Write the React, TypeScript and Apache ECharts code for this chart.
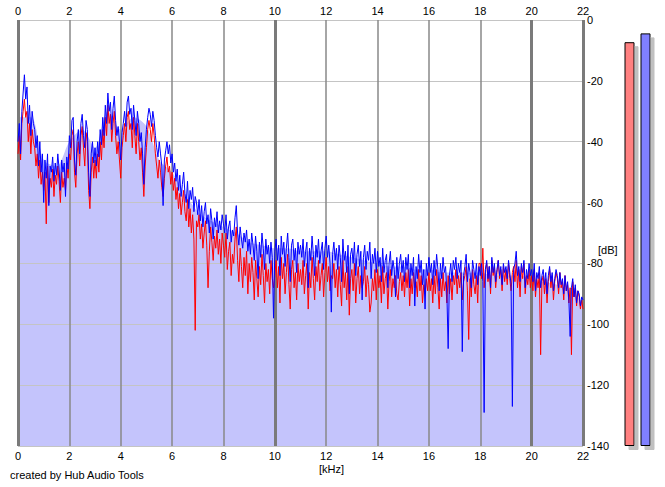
import React, { useEffect, useRef } from "react";
import * as echarts from "echarts";

// Spectrum: values in dB, sampled every FREQ_STEP kHz from 0 to 22 kHz
const FREQ_STEP = 0.05;
const blueDb = [
  -40,-34,-44,-30,-24,-18,-26,-22,-34,-28,-38,-30,-34,-36,-42,-38,-48,-40,-50,-44,
  -60,-46,-52,-44,-61,-48,-50,-45,-53,-47,-51,-44,-49,-56,-46,-50,-47,-58,-45,-49,
  -38,-42,-33,-32,-46,-51,-40,-36,-44,-34,-31,-38,-42,-33,-36,-50,-58,-44,-40,-47,
  -42,-48,-40,-45,-36,-41,-32,-38,-28,-34,-24,-30,-27,-36,-29,-25,-33,-38,-35,-40,
  -46,-37,-34,-30,-35,-27,-25,-31,-29,-36,-28,-33,-38,-30,-34,-40,-37,-44,-54,-42,
  -36,-32,-29,-31,-35,-30,-33,-38,-42,-45,-40,-44,-48,-61,-46,-43,-40,-44,-41,-47,
  -44,-50,-47,-53,-49,-56,-51,-58,-54,-50,-57,-60,-53,-62,-56,-59,-55,-63,-58,-60,
  -64,-59,-66,-61,-68,-63,-60,-67,-64,-70,-62,-66,-72,-65,-68,-63,-70,-66,-69,-64,
  -67,-70,-64,-72,-68,-66,-73,-69,-71,-65,-61,-70,-74,-68,-72,-75,-70,-73,-69,-76,
  -72,-77,-70,-74,-79,-71,-76,-85,-73,-78,-70,-75,-82,-72,-77,-74,-80,-73,-78,-98,
  -76,-72,-79,-74,-84,-71,-77,-73,-81,-75,-70,-78,-86,-74,-72,-79,-75,-83,-73,-77,
  -74,-78,-72,-81,-76,-73,-88,-75,-79,-71,-77,-84,-74,-78,-72,-80,-76,-73,-82,-75,
  -71,-78,-74,-80,-96,-77,-73,-79,-75,-82,-74,-78,-86,-72,-79,-76,-83,-74,-90,-77,
  -75,-80,-73,-84,-77,-74,-81,-76,-92,-78,-74,-82,-76,-79,-73,-85,-77,-80,-75,-83,
  -76,-81,-78,-86,-75,-83,-79,-77,-88,-80,-76,-84,-79,-82,-91,-78,-85,-80,-77,-83,
  -79,-86,-78,-82,-77,-88,-80,-84,-78,-94,-81,-85,-77,-83,-79,-87,-82,-95,-80,-84,
  -78,-83,-80,-87,-79,-84,-77,-82,-89,-80,-85,-78,-83,-81,-90,-108,-84,-80,-86,-79,
  -82,-78,-85,-80,-83,-79,-109,-84,-81,-77,-86,-80,-83,-88,-79,-82,-85,-80,-87,-81,
  -84,-80,-86,-129,-82,-79,-85,-81,-88,-78,-83,-80,-86,-82,-79,-84,-81,-87,-80,-83,
  -81,-85,-79,-83,-87,-127,-82,-80,-76,-84,-81,-86,-80,-83,-79,-88,-82,-85,-80,-84,
  -82,-86,-80,-89,-83,-85,-81,-88,-84,-82,-87,-83,-90,-84,-81,-86,-83,-89,-85,-82,
  -84,-88,-83,-87,-85,-90,-84,-89,-86,-92,-104,-88,-85,-91,-87,-93,-89,-90,-94,-91,
  -92,
];
const redDb = [
  -44,-38,-46,-34,-30,-26,-32,-30,-40,-34,-44,-36,-40,-42,-48,-44,-52,-46,-54,-50,
  -56,-50,-67,-48,-60,-52,-55,-49,-58,-51,-54,-48,-53,-60,-50,-55,-52,-56,-47,-52,
  -44,-46,-38,-36,-50,-55,-44,-40,-48,-38,-35,-42,-48,-37,-40,-56,-62,-50,-45,-52,
  -46,-52,-44,-50,-40,-46,-36,-42,-32,-38,-28,-34,-31,-40,-34,-30,-38,-44,-40,-46,
  -52,-42,-38,-34,-40,-32,-30,-36,-34,-42,-32,-38,-44,-34,-40,-46,-42,-50,-58,-48,
  -42,-36,-33,-36,-40,-34,-38,-44,-48,-52,-46,-50,-55,-58,-52,-48,-45,-50,-48,-54,
  -50,-56,-52,-59,-55,-62,-57,-64,-60,-56,-63,-66,-59,-68,-62,-70,-64,-72,-102,-66,
  -68,-64,-72,-67,-75,-70,-66,-74,-88,-76,-68,-73,-79,-71,-75,-69,-77,-72,-80,-70,
  -74,-78,-70,-82,-76,-73,-84,-77,-80,-72,-68,-79,-86,-75,-81,-88,-78,-84,-76,-90,
  -80,-86,-78,-83,-92,-79,-85,-91,-81,-87,-77,-84,-93,-80,-86,-82,-90,-79,-85,-88,
  -84,-79,-88,-81,-93,-78,-85,-80,-90,-83,-77,-87,-95,-82,-79,-88,-83,-92,-80,-86,
  -82,-87,-79,-90,-84,-80,-95,-83,-88,-78,-85,-92,-81,-86,-79,-89,-84,-80,-91,-83,
  -78,-86,-81,-89,-84,-85,-80,-88,-82,-91,-81,-87,-94,-79,-88,-83,-92,-81,-97,-85,
  -82,-89,-80,-93,-85,-81,-90,-84,-88,-86,-81,-91,-84,-87,-96,-93,-85,-89,-82,-92,
  -82,-88,-84,-93,-81,-90,-85,-83,-95,-86,-82,-91,-85,-88,-84,-90,-92,-86,-83,-89,
  -84,-91,-83,-88,-82,-94,-85,-90,-83,-88,-86,-91,-82,-89,-84,-93,-87,-90,-85,-89,
  -83,-89,-85,-93,-84,-90,-82,-88,-95,-85,-91,-83,-89,-86,-93,-84,-90,-85,-92,-84,
  -87,-82,-90,-84,-88,-83,-92,-86,-84,-81,-89,-105,-85,-91,-82,-87,-90,-84,-93,-80,
  -80,-85,-75,-88,-82,-80,-86,-81,-90,-79,-84,-81,-88,-83,-79,-85,-82,-89,-81,-86,
  -82,-87,-80,-85,-89,-83,-81,-86,-79,-88,-82,-91,-81,-85,-80,-90,-84,-87,-82,-88,
  -84,-89,-82,-91,-85,-88,-83,-110,-86,-84,-90,-85,-93,-86,-82,-88,-84,-92,-86,-83,
  -85,-90,-83,-88,-86,-92,-84,-89,-87,-93,-88,-110,-86,-91,-88,-94,-89,-91,-95,-92,
  -95,
];
// Lavender fill envelope, every FILL_STEP kHz
const FILL_STEP = 0.5;
const fillDb = [
  -32, -32, -46, -48, -40, -36, -42, -30, -36, -32, -35, -46, -50, -57, -63, -66,
  -68, -70, -73, -74, -75, -75, -76, -76, -76, -77, -78, -79, -80, -81, -81, -82,
  -82, -83, -83, -83, -83, -84, -84, -84, -85, -86, -87, -89, -93,
];
// Level meters (dB)
const meterNames = ["L", "R"];
const meterDb = [-7.3, -4.4];
const meterColors = ["#ff8080", "#8080ff"];

const X_MIN = 0;
const X_MAX = 22;
const X_INTERVAL = 2;
const Y_MIN = -140;
const Y_MAX = 0;
const Y_INTERVAL = 20;

const FONT = "'Liberation Sans', Arial, sans-serif";
const FONT_SIZE = 11;

export default function App() {
  const ref = useRef<HTMLDivElement>(null);
  useEffect(() => {
    if (!ref.current) return;
    const chart = echarts.init(ref.current, undefined, { renderer: "svg" });
    const toPairs = (arr: number[], step: number) =>
      arr.map((v, i) => [+(i * step).toFixed(3), v]);
    const labelStyle = { color: "#000", fontSize: FONT_SIZE, fontFamily: FONT };
    chart.setOption({
      animation: false,
      backgroundColor: "#fff",
      grid: [
        { left: 18, right: 82, top: 20, bottom: 41 },
        { left: 621.5, width: 32, top: 20, bottom: 41 },
      ],
      xAxis: [
        {
          type: "value", gridIndex: 0, position: "bottom", min: X_MIN, max: X_MAX, interval: X_INTERVAL,
          z: 1.5,
          axisLine: { show: false }, axisTick: { show: false },
          axisLabel: { ...labelStyle, margin: 4 },
          splitLine: { show: true, lineStyle: { color: "#888888", width: 1.5 } },
        },
        {
          type: "value", gridIndex: 0, position: "top", min: X_MIN, max: X_MAX, interval: X_INTERVAL,
          z: 1.5,
          axisLine: { show: false }, axisTick: { show: false },
          axisLabel: { ...labelStyle, margin: 4 },
          splitLine: { show: false },
        },
        {
          type: "value", gridIndex: 0, position: "bottom", min: X_MIN, max: X_MAX, interval: 10,
          z: 1.6,
          axisLine: { show: false }, axisTick: { show: false }, axisLabel: { show: false },
          splitLine: { show: true, lineStyle: { color: "#7a7a7a", width: 3 } },
        },
        {
          type: "category", gridIndex: 1, data: meterNames, show: false,
        },
      ],
      yAxis: [
        {
          type: "value", gridIndex: 0, position: "right", min: Y_MIN, max: Y_MAX, interval: Y_INTERVAL,
          z: 1.4,
          axisLine: { show: false }, axisTick: { show: false },
          axisLabel: { ...labelStyle, margin: 4 },
          splitLine: { show: true, lineStyle: { color: "#c4c4c4", width: 1 } },
        },
        {
          type: "value", gridIndex: 1, min: 0, max: Y_MAX - Y_MIN, show: false,
        },
      ],
      series: [
        {
          type: "line", xAxisIndex: 0, yAxisIndex: 0, z: 1,
          data: toPairs(fillDb, FILL_STEP),
          smooth: 0.3, showSymbol: false, silent: true,
          lineStyle: { width: 0 },
          areaStyle: { color: "#c4c4fc", opacity: 1, origin: "start" },
        },
        {
          type: "line", xAxisIndex: 0, yAxisIndex: 0, z: 3,
          data: toPairs(redDb, FREQ_STEP),
          showSymbol: false, silent: true,
          lineStyle: { color: "#ff0000", width: 1 },
        },
        {
          type: "line", xAxisIndex: 0, yAxisIndex: 0, z: 4,
          data: toPairs(blueDb, FREQ_STEP),
          showSymbol: false, silent: true,
          lineStyle: { color: "#0000ff", width: 1 },
        },
        {
          type: "bar", xAxisIndex: 3, yAxisIndex: 1, barWidth: 10,
          data: meterDb.map((v, i) => ({
            value: v - Y_MIN,
            itemStyle: {
              color: meterColors[i], borderColor: "#000", borderWidth: 1,
              shadowColor: "#c0c0c0", shadowOffsetX: 4, shadowOffsetY: 4, shadowBlur: 0,
            },
          })),
        },
      ],
      graphic: [
        { type: "text", left: 319, top: 463, style: { text: "[kHz]", fill: "#000", font: `${FONT_SIZE}px ${FONT}` } },
        { type: "text", left: 598, top: 244, style: { text: "[dB]", fill: "#000", font: `${FONT_SIZE}px ${FONT}` } },
        { type: "text", left: 10, top: 469, style: { text: "created by Hub Audio Tools", fill: "#000", font: `${FONT_SIZE}px ${FONT}` } },
      ],
    });
    return () => chart.dispose();
  }, []);
  return (
    <div
      ref={ref}
      style={{ position: "fixed", left: 0, top: 0, width: 665, height: 487, background: "#fff" }}
    />
  );
}
